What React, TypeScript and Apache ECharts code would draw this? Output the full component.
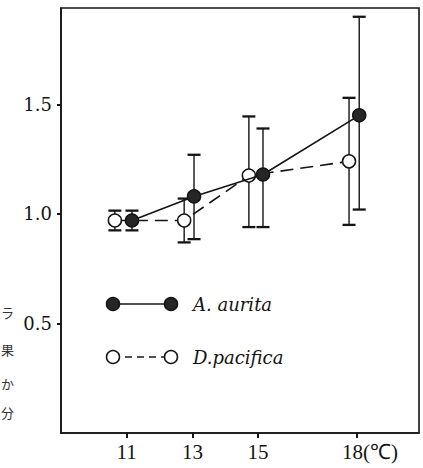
import React, { useEffect, useRef } from "react";
import * as echarts from "echarts";

const xTicks = [11, 13, 15, 18];
const yTicks = [0.5, 1.0, 1.5];

const auritaX = [11.16, 13.05, 15.15, 18.08];
const auritaMean = [0.97, 1.08, 1.18, 1.45];
const auritaLow = [0.925, 0.885, 0.94, 1.02];
const auritaHigh = [1.015, 1.27, 1.39, 1.9];

const pacificaX = [10.64, 12.75, 14.72, 17.77];
const pacificaMean = [0.97, 0.97, 1.175, 1.24];
const pacificaLow = [0.925, 0.87, 0.94, 0.95];
const pacificaHigh = [1.015, 1.07, 1.445, 1.53];

const sideChars = ["ラ", "果", "か", "分"];
const sideCharY = [312, 349, 383, 412];

const INK = "#141414";

export default function App() {
  const ref = useRef<HTMLDivElement>(null);
  useEffect(() => {
    if (!ref.current) return;
    const chart = echarts.init(ref.current, undefined, { renderer: "svg" });

    const errData = [
      ...pacificaX.map((x, i) => [x, pacificaLow[i], pacificaHigh[i]]),
      ...auritaX.map((x, i) => [x, auritaLow[i], auritaHigh[i]]),
    ];

    const renderErr = (params: any, api: any) => {
      const x = api.value(0);
      const lo = api.coord([x, api.value(1)]);
      const hi = api.coord([x, api.value(2)]);
      const w = 6.5;
      const st = { stroke: INK, lineWidth: 1.4 };
      const cap = { stroke: INK, lineWidth: 2.3 };
      return {
        type: "group",
        children: [
          { type: "line", shape: { x1: lo[0], y1: lo[1], x2: hi[0], y2: hi[1] }, style: st },
          { type: "line", shape: { x1: hi[0] - w, y1: hi[1], x2: hi[0] + w, y2: hi[1] }, style: cap },
          { type: "line", shape: { x1: lo[0] - w, y1: lo[1], x2: lo[0] + w, y2: lo[1] }, style: cap },
        ],
      };
    };

    const graphics: any[] = [];
    const lx1 = 113, lx2 = 171, ly1 = 304, ly2 = 357, r = 6.5;
    graphics.push(
      { type: "line", shape: { x1: lx1, y1: ly1, x2: lx2, y2: ly1 }, style: { stroke: INK, lineWidth: 1.6 }, z: 10 },
      { type: "circle", shape: { cx: lx1, cy: ly1, r }, style: { fill: "#262626", stroke: INK, lineWidth: 1.5 }, z: 11 },
      { type: "circle", shape: { cx: lx2, cy: ly1, r }, style: { fill: "#262626", stroke: INK, lineWidth: 1.5 }, z: 11 },
      { type: "text", x: 193, y: ly1, style: { text: "A. aurita", font: "italic 18px 'DejaVu Serif'", fill: INK, verticalAlign: "middle" }, z: 11 },
      { type: "line", shape: { x1: lx1, y1: ly2, x2: lx2, y2: ly2 }, style: { stroke: INK, lineWidth: 1.6, lineDash: [7, 5] }, z: 10 },
      { type: "circle", shape: { cx: lx1, cy: ly2, r }, style: { fill: "#fff", stroke: INK, lineWidth: 1.5 }, z: 11 },
      { type: "circle", shape: { cx: lx2, cy: ly2, r }, style: { fill: "#fff", stroke: INK, lineWidth: 1.5 }, z: 11 },
      { type: "text", x: 193, y: ly2, style: { text: "D.pacifica", font: "italic 18px 'DejaVu Serif'", fill: INK, verticalAlign: "middle" }, z: 11 }
    );
    sideChars.forEach((c, i) => {
      graphics.push({
        type: "text",
        x: 1,
        y: sideCharY[i],
        style: { text: c, font: "13px 'Noto Sans CJK JP'", fill: "#333", align: "left", verticalAlign: "middle" },
      });
    });

    chart.setOption({
      animation: false,
      backgroundColor: "#fff",
      grid: { left: 61, right: 4, top: 8, bottom: 35, show: true, borderColor: INK, borderWidth: 1.6 },
      xAxis: {
        type: "value",
        min: 9,
        max: 19.9,
        axisLine: { show: true, onZero: false, lineStyle: { color: INK, width: 1.6 } },
        axisTick: { show: true, customValues: xTicks, length: 5, lineStyle: { color: INK, width: 2 } },
        splitLine: { show: false },
        axisLabel: {
          customValues: xTicks,
          color: INK,
          fontFamily: "Liberation Serif",
          fontSize: 21,
          margin: 8,
          formatter: (v: number) => (v === 18 ? "{s|}18(℃)" : String(v)),
          rich: { s: { width: 27 } },
        },
      },
      yAxis: {
        type: "value",
        min: 0,
        max: 1.94,
        axisLine: { show: true, lineStyle: { color: INK, width: 1.6 } },
        axisTick: { show: true, customValues: yTicks, length: 4, lineStyle: { color: INK, width: 2 } },
        splitLine: { show: false },
        axisLabel: {
          customValues: yTicks,
          color: INK,
          fontFamily: "DejaVu Serif",
          fontSize: 18,
          margin: 9,
          formatter: (v: number) => v.toFixed(1),
        },
      },
      series: [
        {
          type: "custom",
          renderItem: renderErr,
          data: errData,
          encode: { x: 0, y: [1, 2] },
          z: 1,
          silent: true,
        },
        {
          name: "D. pacifica",
          type: "line",
          data: pacificaX.map((x, i) => [x, pacificaMean[i]]),
          symbol: "circle",
          symbolSize: 13,
          lineStyle: { color: INK, width: 1.6, type: [13, 7] },
          itemStyle: { color: "#fff", borderColor: INK, borderWidth: 1.5 },
          z: 3,
        },
        {
          name: "A. aurita",
          type: "line",
          data: auritaX.map((x, i) => [x, auritaMean[i]]),
          symbol: "circle",
          symbolSize: 13,
          lineStyle: { color: INK, width: 1.6 },
          itemStyle: { color: "#262626", borderColor: INK, borderWidth: 1.5 },
          z: 4,
        },
      ],
      graphic: graphics,
    });
    return () => chart.dispose();
  }, []);
  return <div ref={ref} style={{ width: 423, height: 468, position: "absolute", left: 0, top: 0 }} />;
}
